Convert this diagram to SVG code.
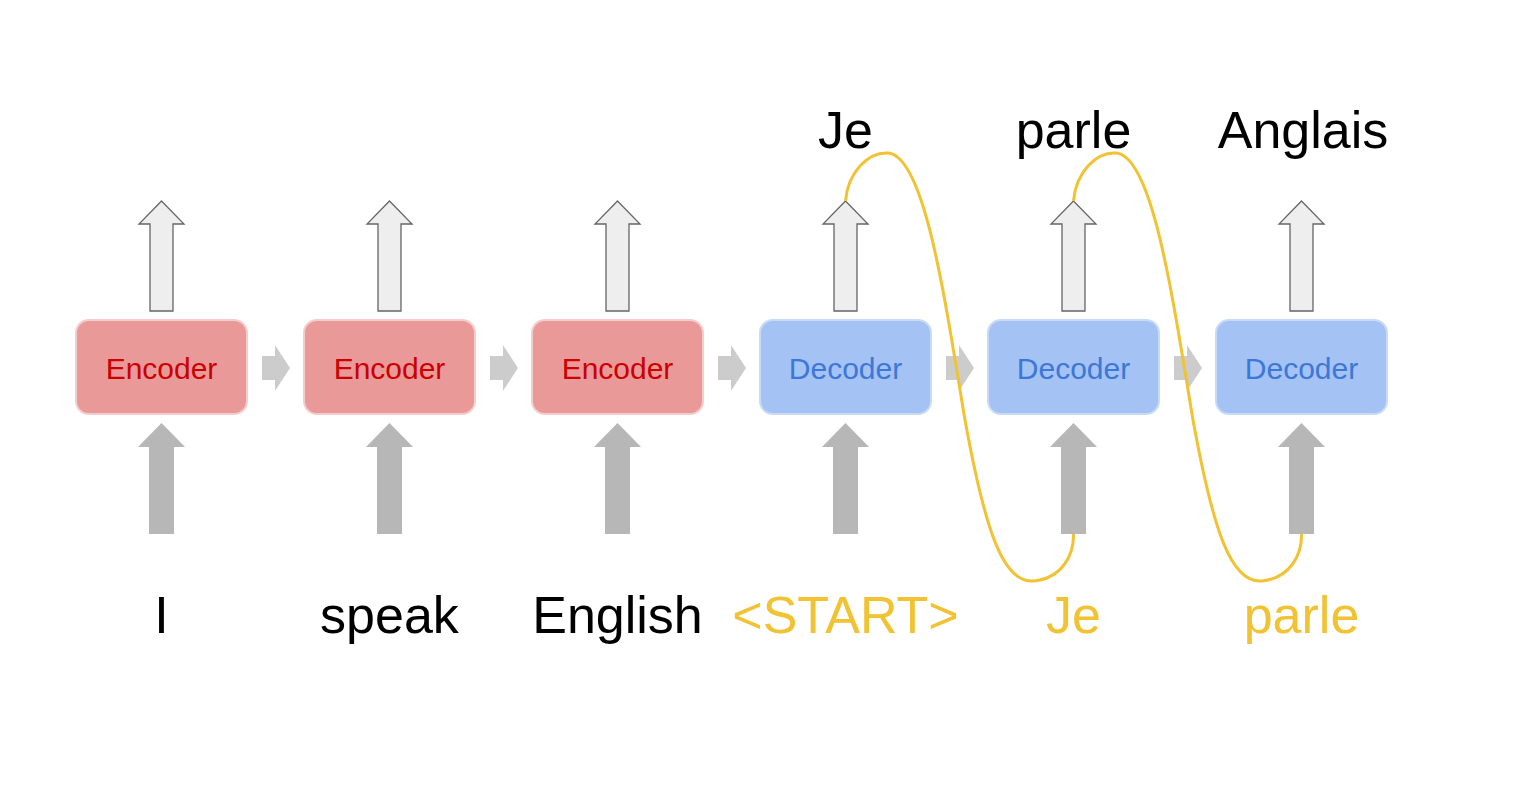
<svg xmlns="http://www.w3.org/2000/svg" width="1534" height="794" viewBox="0 0 1534 794">
<defs>
<style>
.enc rect{fill:#ea9999;stroke:#f4cccc;stroke-width:2}
.dec rect{fill:#a4c2f4;stroke:#c9daf8;stroke-width:2}
.enc text{fill:#cc0000}
.dec text{fill:#3c78d8}
.box text{font-family:"Liberation Sans",Arial,sans-serif;font-size:30px;text-anchor:middle}
.out{fill:#eeeeee;stroke:#666666;stroke-width:1.3}
.in{fill:#b7b7b7}
.step{fill:#cccccc}
.lbl{font-family:"Liberation Sans",Arial,sans-serif;font-size:52px;text-anchor:middle;fill:#000}
.y{fill:#f1c232}
.loop{fill:none;stroke:#f1c232;stroke-width:3}
</style>
<path id="outArrow" d="M0,0 L22.5,23 L11.5,23 L11.5,110 L-11.5,110 L-11.5,23 L-22.5,23 Z"/>
<path id="inArrow" d="M0,0 L23.5,24 L12.5,24 L12.5,111 L-12.5,111 L-12.5,24 L-23.5,24 Z"/>
<path id="stepArrow" d="M0,-12 L13,-12 L13,-23 L28,0 L13,23 L13,12 L0,12 Z"/>
</defs>
<rect width="1534" height="794" fill="#fff"/>

<g id="connectors">
<use href="#stepArrow" class="step" x="262" y="368"/>
<use href="#stepArrow" class="step" x="490" y="368"/>
<use href="#stepArrow" class="step" x="718" y="368"/>
<use href="#stepArrow" class="step" x="946" y="368"/>
<use href="#stepArrow" class="step" x="1174" y="368"/>
<use href="#outArrow" class="out" x="161.5" y="201"/>
<use href="#outArrow" class="out" x="389.5" y="201"/>
<use href="#outArrow" class="out" x="617.5" y="201"/>
<use href="#outArrow" class="out" x="845.5" y="201"/>
<use href="#outArrow" class="out" x="1073.5" y="201"/>
<use href="#outArrow" class="out" x="1301.5" y="201"/>
<use href="#inArrow" class="in" x="161.5" y="423"/>
<use href="#inArrow" class="in" x="389.5" y="423"/>
<use href="#inArrow" class="in" x="617.5" y="423"/>
<use href="#inArrow" class="in" x="845.5" y="423"/>
<use href="#inArrow" class="in" x="1073.5" y="423"/>
<use href="#inArrow" class="in" x="1301.5" y="423"/>
<path class="loop" d="M845.5,201 C848,172 868,152 888,153 C925,156 945,300 965,420 C985,530 1003,584 1034,581 C1062,578 1074,555 1073.5,534"/>
<path class="loop" d="M1073.5,201 C1076,172 1096,152 1116,153 C1153,156 1173,300 1193,420 C1213,530 1231,584 1262,581 C1290,578 1302,555 1301.5,534"/>
</g>

<g id="enc1" class="box enc"><rect x="76" y="320" width="171" height="94" rx="13"/><text x="161.5" y="379">Encoder</text></g>
<g id="enc2" class="box enc"><rect x="304" y="320" width="171" height="94" rx="13"/><text x="389.5" y="379">Encoder</text></g>
<g id="enc3" class="box enc"><rect x="532" y="320" width="171" height="94" rx="13"/><text x="617.5" y="379">Encoder</text></g>
<g id="dec1" class="box dec"><rect x="760" y="320" width="171" height="94" rx="13"/><text x="845.5" y="379">Decoder</text></g>
<g id="dec2" class="box dec"><rect x="988" y="320" width="171" height="94" rx="13"/><text x="1073.5" y="379">Decoder</text></g>
<g id="dec3" class="box dec"><rect x="1216" y="320" width="171" height="94" rx="13"/><text x="1301.5" y="379">Decoder</text></g>

<g id="labels">
<text class="lbl" x="845.5" y="148">Je</text>
<text class="lbl" x="1073.5" y="148">parle</text>
<text class="lbl" x="1303" y="148">Anglais</text>
<text class="lbl" x="161.5" y="633">I</text>
<text class="lbl" x="389.5" y="633">speak</text>
<text class="lbl" x="617.5" y="633">English</text>
<text class="lbl y" x="845.5" y="633">&lt;START&gt;</text>
<text class="lbl y" x="1073.5" y="633">Je</text>
<text class="lbl y" x="1301.5" y="633">parle</text>
</g>
</svg>
